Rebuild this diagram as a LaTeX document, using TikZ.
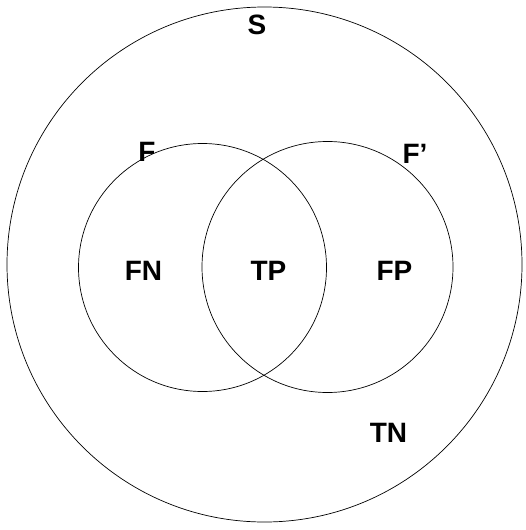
\documentclass[tikz,border=0pt]{standalone}
\usepackage{fontspec}
\setmainfont{Liberation Sans}
\begin{document}
\begin{tikzpicture}[x=1pt,y=-1pt,
  ring/.style={draw=black,line width=0.7pt,circle,inner sep=0pt},
  lbl/.style={font=\fontsize{28}{28}\selectfont\bfseries,inner sep=0pt,text height=20pt,text depth=0pt,anchor=center}]
\useasboundingbox (0,0) rectangle (526,530);
\node[ring,minimum size=515pt] (S) at (264.5,264.5) {};
\node[ring,minimum size=248pt] (Fc) at (202.5,267.5) {};
\node[ring,minimum size=251pt] (Fpc) at (327.5,267) {};
\node[lbl] (Sl) at (257,24) {S};
\node[lbl] (Fl) at (147,151.5) {F};
\node[lbl] (Fpl) at (415,153.5) {F’};
\node[lbl] (FN) at (143.5,270) {FN};
\node[lbl] (TP) at (268.5,270.5) {TP};
\node[lbl] (FP) at (394.5,270.5) {FP};
\node[lbl] (TN) at (388.5,432.5) {TN};
\end{tikzpicture}
\end{document}
